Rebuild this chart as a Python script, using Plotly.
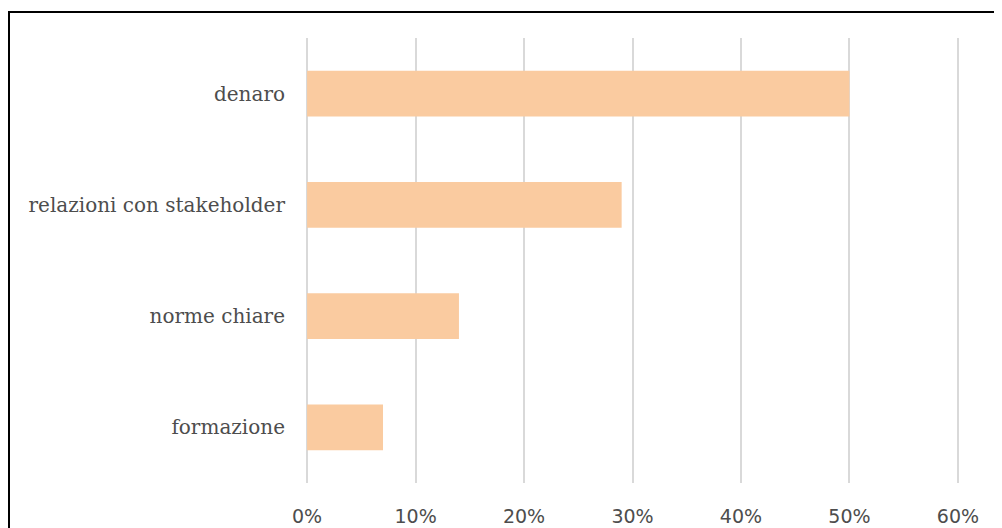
import plotly.graph_objects as go

categories = ["denaro", "relazioni con stakeholder", "norme chiare", "formazione"]
values = [0.50, 0.29, 0.14, 0.07]
tick_vals = [0, 0.1, 0.2, 0.3, 0.4, 0.5, 0.6]
tick_text = ["0%", "10%", "20%", "30%", "40%", "50%", "60%"]

fig = go.Figure(go.Bar(
    x=values, y=categories, orientation="h",
    marker=dict(color="#FACBA0", line=dict(width=0)),
    hoverinfo="skip",
))

# page has an 8px body margin; compensate
OFF = 8
W, H = 1002 - OFF, 528 - OFF
L = 306 - OFF
T = 38 - OFF
R = W - (959 - OFF)
B = H - (483 - OFF)
pw, ph = W - L - R, H - T - B

def px_x(p):
    return (p - OFF - L) / pw

def px_y(p):
    return (H - B - (p - OFF)) / ph

fig.add_shape(type="rect", xref="paper", yref="paper",
              x0=px_x(9), x1=px_x(1030), y0=px_y(560), y1=px_y(12),
              line=dict(color="black", width=2), fillcolor="rgba(0,0,0,0)", layer="above")

fig.update_layout(
    width=W, height=H,
    margin=dict(l=L, r=R, t=T, b=B, pad=0),
    paper_bgcolor="white", plot_bgcolor="white",
    bargap=0.59,
    showlegend=False,
    xaxis=dict(range=[-0.001, 0.601], tickvals=tick_vals, ticktext=tick_text,
               showgrid=True, gridcolor="#D9D9D9", gridwidth=1.5,
               zeroline=False, showline=False, automargin=False,
               ticks="outside", ticklen=16, tickcolor="rgba(0,0,0,0)",
               tickfont=dict(family="DejaVu Sans", size=19, color="#4D4D4D")),
    yaxis=dict(categoryorder="array", categoryarray=categories[::-1],
               showgrid=False, zeroline=False, showline=False, automargin=False,
               ticks="outside", ticklen=16, tickcolor="rgba(0,0,0,0)",
               tickfont=dict(family="DejaVu Serif", size=20, color="#4D4D4D")),
)

fig.write_html("out.html")
